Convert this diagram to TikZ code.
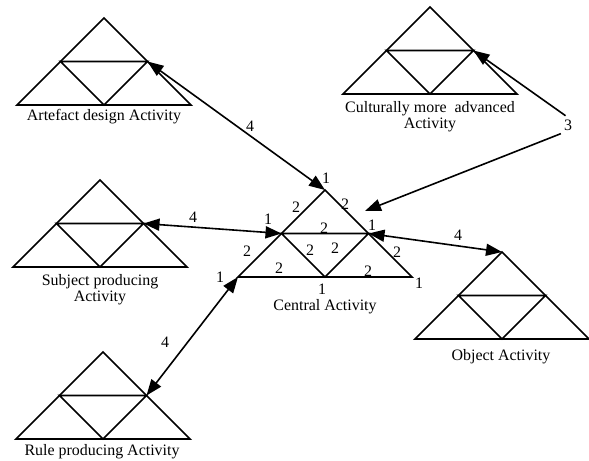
\documentclass[tikz,border=0pt]{standalone}
\usepackage{fontspec}
\setmainfont{Liberation Serif}
\usetikzlibrary{arrows.meta}
\begin{document}
\begin{tikzpicture}[x=1bp,y=-1bp,
  tri/.style={line width=1.7bp, line join=miter},
  conn/.style={line width=1.6bp, {Triangle[length=16bp,width=12bp]}-{Triangle[length=16bp,width=12bp]}},
  conn1/.style={line width=1.6bp, -{Triangle[length=16bp,width=12bp]}},
  lbl/.style={font=\fontsize{16}{16}\selectfont, inner sep=0pt, align=center},
  num/.style={font=\fontsize{16}{16}\selectfont, inner sep=2pt},
  act/.pic={
    \coordinate (-top) at (0,0);
    \coordinate (-bl) at (-87,87);
    \coordinate (-br) at (87,87);
    \coordinate (-lm) at (-43.5,43.5);
    \coordinate (-rm) at (43.5,43.5);
    \coordinate (-bm) at (0,87);
    \draw[tri] (0,0) -- (87,87) -- (-87,87) -- cycle;
    \draw[tri] (-43.5,43.5) -- (43.5,43.5) -- (0,87) -- cycle;
  }]
\useasboundingbox (0,0) rectangle (589,461);

% triangles
\pic (art) at (104,18) {act};
\pic (cul) at (430,7) {act};
\pic (sub) at (100,180) {act};
\pic (rul) at (103,352) {act};
\pic (obj) at (502,252) {act};
\pic (cen) at (325,190) {act};

% activity labels
\node[lbl] (lart) at (104,117) {Artefact design Activity};
\node[lbl] (lcul) at (430,117) {Culturally more\ \ advanced\\[0pt]Activity};
\node[lbl] (lsub) at (100,290) {Subject producing\\[0pt]Activity};
\node[lbl] (lrul) at (102,452) {Rule producing Activity};
\node[lbl] (lobj) at (501,357) {Object Activity};
\node[lbl] (lcen) at (325,307) {Central Activity};

% connector numbers
\node[num] (n4a) at (250,126) {4};
\node[num] (n4s) at (193,217) {4};
\node[num] (n4r) at (165,342) {4};
\node[num] (n4o) at (458,235) {4};
\node[num] (three) at (568,125) {3};

% central numbers
\node[num] (c1) at (326,178) {1};
\node[num] (c2) at (296,207) {2};
\node[num] (c3) at (345,204) {2};
\node[num] (c4) at (268,219) {1};
\node[num] (c5) at (324,228) {2};
\node[num] (c6) at (372,225) {1};
\node[num] (c7) at (247,251) {2};
\node[num] (c8) at (310,250) {2};
\node[num] (c9) at (335,248) {2};
\node[num] (c10) at (397,252) {2};
\node[num] (c11) at (279,268) {2};
\node[num] (c12) at (368,271) {2};
\node[num] (c13) at (220,277) {1};
\node[num] (c14) at (322,289) {1};
\node[num] (c15) at (419,283) {1};

% connectors
\coordinate (cenpt) at (365,211);
\draw[conn] (art-rm) -- (cen-top);
\draw[conn] (sub-rm) -- (cen-lm);
\draw[conn] (rul-rm) -- (cen-bl);
\draw[conn] (cen-rm) -- (obj-top);
\draw[conn1, shorten <=3bp] (three.north) -- (cul-rm);
\draw[conn1, shorten <=3bp] (three.240) -- (cenpt);
\end{tikzpicture}
\end{document}
